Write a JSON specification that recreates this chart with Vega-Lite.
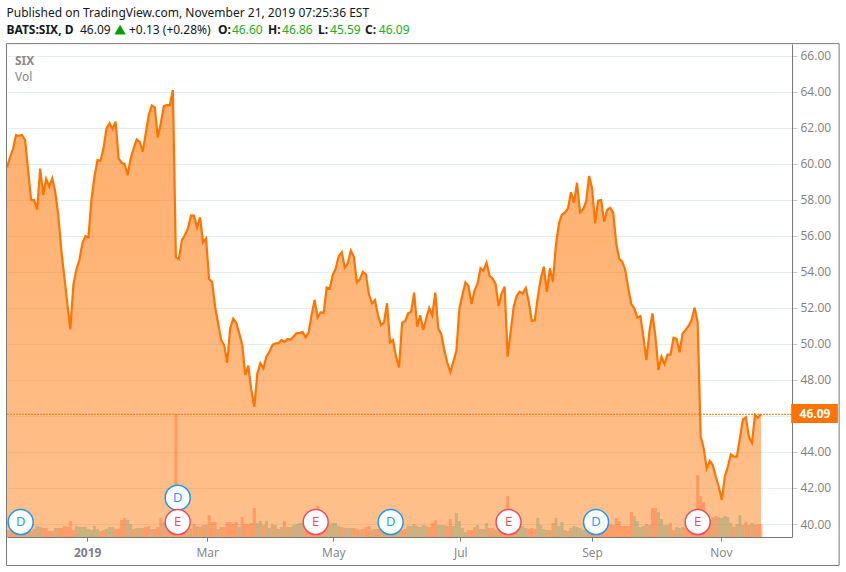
{"$schema":"https://vega.github.io/schema/vega-lite/v6.json","width":785,"height":493,"autosize":{"type":"none"},"padding":{"left":7,"top":44,"right":54,"bottom":35},"background":"white","view":{"stroke":null},
"datasets":{"prices":[
{"i":0,"close":59.79,"volume":700,"dir":"up"},{"i":1,"close":60.35,"volume":700,"dir":"down"},{"i":2,"close":60.81,"volume":800,"dir":"down"},{"i":3,"close":61.59,"volume":800,"dir":"up"},{"i":4,"close":61.55,"volume":700,"dir":"down"},{"i":5,"close":61.59,"volume":600,"dir":"down"},{"i":6,"close":61.31,"volume":800,"dir":"up"},{"i":7,"close":59.65,"volume":800,"dir":"down"},{"i":8,"close":57.98,"volume":600,"dir":"up"},{"i":9,"close":57.98,"volume":800,"dir":"down"},
{"i":10,"close":57.46,"volume":1100,"dir":"up"},{"i":11,"close":59.72,"volume":1000,"dir":"up"},{"i":12,"close":58.26,"volume":900,"dir":"down"},{"i":13,"close":59.15,"volume":900,"dir":"down"},{"i":14,"close":58.72,"volume":600,"dir":"down"},{"i":15,"close":59.18,"volume":600,"dir":"down"},{"i":16,"close":58.44,"volume":900,"dir":"up"},{"i":17,"close":57.15,"volume":900,"dir":"down"},{"i":18,"close":55.21,"volume":900,"dir":"down"},{"i":19,"close":53.73,"volume":1100,"dir":"down"},
{"i":20,"close":52.25,"volume":1000,"dir":"down"},{"i":21,"close":50.8,"volume":1600,"dir":"down"},{"i":22,"close":53.26,"volume":700,"dir":"down"},{"i":23,"close":54.13,"volume":1100,"dir":"up"},{"i":24,"close":54.65,"volume":1000,"dir":"up"},{"i":25,"close":55.58,"volume":1000,"dir":"up"},{"i":26,"close":55.98,"volume":1000,"dir":"up"},{"i":27,"close":55.91,"volume":800,"dir":"up"},{"i":28,"close":57.98,"volume":700,"dir":"up"},{"i":29,"close":59.28,"volume":1100,"dir":"up"},
{"i":30,"close":60.2,"volume":800,"dir":"up"},{"i":31,"close":60.16,"volume":600,"dir":"down"},{"i":32,"close":60.85,"volume":700,"dir":"down"},{"i":33,"close":61.96,"volume":800,"dir":"up"},{"i":34,"close":62.24,"volume":1000,"dir":"up"},{"i":35,"close":61.92,"volume":1000,"dir":"up"},{"i":36,"close":62.33,"volume":800,"dir":"down"},{"i":37,"close":60.29,"volume":800,"dir":"down"},{"i":38,"close":60.05,"volume":1700,"dir":"down"},{"i":39,"close":59.98,"volume":1900,"dir":"down"},
{"i":40,"close":59.37,"volume":1700,"dir":"up"},{"i":41,"close":60.29,"volume":1300,"dir":"up"},{"i":42,"close":60.85,"volume":800,"dir":"down"},{"i":43,"close":61.35,"volume":900,"dir":"up"},{"i":44,"close":61.2,"volume":900,"dir":"up"},{"i":45,"close":60.66,"volume":900,"dir":"down"},{"i":46,"close":61.68,"volume":1000,"dir":"down"},{"i":47,"close":62.7,"volume":1100,"dir":"down"},{"i":48,"close":63.23,"volume":800,"dir":"up"},{"i":49,"close":63.12,"volume":800,"dir":"down"},
{"i":50,"close":61.46,"volume":1000,"dir":"down"},{"i":51,"close":62.24,"volume":1900,"dir":"down"},{"i":52,"close":63.2,"volume":1500,"dir":"up"},{"i":53,"close":63.25,"volume":1000,"dir":"down"},{"i":54,"close":63.25,"volume":1100,"dir":"down"},{"i":55,"close":64.09,"volume":1200,"dir":"down"},{"i":56,"close":54.8,"volume":12300,"dir":"down"},{"i":57,"close":54.71,"volume":1000,"dir":"down"},{"i":58,"close":55.76,"volume":800,"dir":"down"},{"i":59,"close":56.04,"volume":1000,"dir":"down"},
{"i":60,"close":56.41,"volume":800,"dir":"up"},{"i":61,"close":57.11,"volume":800,"dir":"down"},{"i":62,"close":57.11,"volume":1300,"dir":"down"},{"i":63,"close":56.45,"volume":1100,"dir":"up"},{"i":64,"close":57.02,"volume":1000,"dir":"down"},{"i":65,"close":55.63,"volume":1200,"dir":"down"},{"i":66,"close":55.85,"volume":1200,"dir":"up"},{"i":67,"close":53.6,"volume":2200,"dir":"down"},{"i":68,"close":53.45,"volume":1500,"dir":"down"},{"i":69,"close":52.06,"volume":1500,"dir":"down"},
{"i":70,"close":51.14,"volume":800,"dir":"up"},{"i":71,"close":50.21,"volume":1000,"dir":"down"},{"i":72,"close":49.93,"volume":1000,"dir":"down"},{"i":73,"close":48.95,"volume":1500,"dir":"down"},{"i":74,"close":50.86,"volume":1500,"dir":"down"},{"i":75,"close":51.4,"volume":1300,"dir":"down"},{"i":76,"close":51.17,"volume":1500,"dir":"down"},{"i":77,"close":50.58,"volume":1000,"dir":"up"},{"i":78,"close":49.93,"volume":2000,"dir":"down"},{"i":79,"close":48.27,"volume":1300,"dir":"down"},
{"i":80,"close":48.79,"volume":1300,"dir":"down"},{"i":81,"close":47.44,"volume":1400,"dir":"down"},{"i":82,"close":46.51,"volume":2900,"dir":"down"},{"i":83,"close":48.36,"volume":1400,"dir":"up"},{"i":84,"close":48.92,"volume":1600,"dir":"up"},{"i":85,"close":48.64,"volume":1200,"dir":"down"},{"i":86,"close":49.29,"volume":1600,"dir":"up"},{"i":87,"close":49.56,"volume":900,"dir":"up"},{"i":88,"close":49.93,"volume":1300,"dir":"down"},{"i":89,"close":50.03,"volume":1200,"dir":"up"},
{"i":90,"close":50.03,"volume":800,"dir":"down"},{"i":91,"close":50.21,"volume":1000,"dir":"up"},{"i":92,"close":50.1,"volume":1600,"dir":"down"},{"i":93,"close":50.27,"volume":1000,"dir":"up"},{"i":94,"close":50.23,"volume":1000,"dir":"down"},{"i":95,"close":50.4,"volume":1200,"dir":"up"},{"i":96,"close":50.6,"volume":1300,"dir":"up"},{"i":97,"close":50.6,"volume":1400,"dir":"up"},{"i":98,"close":50.66,"volume":1400,"dir":"up"},{"i":99,"close":50.36,"volume":1100,"dir":"down"},
{"i":100,"close":50.62,"volume":1200,"dir":"down"},{"i":101,"close":51.6,"volume":1200,"dir":"down"},{"i":102,"close":52.43,"volume":1500,"dir":"down"},{"i":103,"close":51.47,"volume":3100,"dir":"down"},{"i":104,"close":51.75,"volume":1400,"dir":"down"},{"i":105,"close":51.73,"volume":1300,"dir":"up"},{"i":106,"close":53.12,"volume":1200,"dir":"down"},{"i":107,"close":53.06,"volume":1200,"dir":"up"},{"i":108,"close":53.82,"volume":1400,"dir":"up"},{"i":109,"close":54.19,"volume":1400,"dir":"up"},
{"i":110,"close":54.87,"volume":1100,"dir":"up"},{"i":111,"close":55.08,"volume":1000,"dir":"down"},{"i":112,"close":54.23,"volume":900,"dir":"up"},{"i":113,"close":54.47,"volume":900,"dir":"up"},{"i":114,"close":55.17,"volume":900,"dir":"up"},{"i":115,"close":54.84,"volume":900,"dir":"down"},{"i":116,"close":53.41,"volume":800,"dir":"down"},{"i":117,"close":53.58,"volume":700,"dir":"up"},{"i":118,"close":54.0,"volume":800,"dir":"down"},{"i":119,"close":53.86,"volume":1000,"dir":"down"},
{"i":120,"close":52.76,"volume":1100,"dir":"down"},{"i":121,"close":52.25,"volume":700,"dir":"up"},{"i":122,"close":52.43,"volume":800,"dir":"down"},{"i":123,"close":51.6,"volume":800,"dir":"down"},{"i":124,"close":51.04,"volume":900,"dir":"up"},{"i":125,"close":51.19,"volume":700,"dir":"down"},{"i":126,"close":52.25,"volume":800,"dir":"up"},{"i":127,"close":50.08,"volume":800,"dir":"down"},{"i":128,"close":50.21,"volume":600,"dir":"down"},{"i":129,"close":49.29,"volume":900,"dir":"up"},
{"i":130,"close":48.69,"volume":700,"dir":"up"},{"i":131,"close":51.17,"volume":700,"dir":"down"},{"i":132,"close":51.25,"volume":800,"dir":"down"},{"i":133,"close":51.69,"volume":1100,"dir":"up"},{"i":134,"close":51.78,"volume":1100,"dir":"up"},{"i":135,"close":52.84,"volume":1300,"dir":"up"},{"i":136,"close":50.95,"volume":1100,"dir":"up"},{"i":137,"close":51.58,"volume":1000,"dir":"up"},{"i":138,"close":50.77,"volume":1200,"dir":"up"},{"i":139,"close":51.41,"volume":1100,"dir":"up"},
{"i":140,"close":51.99,"volume":1000,"dir":"down"},{"i":141,"close":51.58,"volume":1400,"dir":"down"},{"i":142,"close":52.84,"volume":1700,"dir":"down"},{"i":143,"close":50.86,"volume":1200,"dir":"up"},{"i":144,"close":50.54,"volume":1200,"dir":"up"},{"i":145,"close":49.66,"volume":1200,"dir":"up"},{"i":146,"close":48.95,"volume":1100,"dir":"down"},{"i":147,"close":48.45,"volume":1800,"dir":"down"},{"i":148,"close":49.01,"volume":1100,"dir":"up"},{"i":149,"close":49.6,"volume":2400,"dir":"up"},
{"i":150,"close":51.97,"volume":1600,"dir":"up"},{"i":151,"close":52.71,"volume":900,"dir":"up"},{"i":152,"close":53.41,"volume":500,"dir":"up"},{"i":153,"close":53.21,"volume":700,"dir":"down"},{"i":154,"close":52.21,"volume":700,"dir":"down"},{"i":155,"close":52.95,"volume":1000,"dir":"down"},{"i":156,"close":53.32,"volume":1200,"dir":"up"},{"i":157,"close":54.19,"volume":800,"dir":"down"},{"i":158,"close":54.06,"volume":800,"dir":"up"},{"i":159,"close":54.5,"volume":1400,"dir":"up"},
{"i":160,"close":53.78,"volume":900,"dir":"down"},{"i":161,"close":53.63,"volume":900,"dir":"down"},{"i":162,"close":53.32,"volume":700,"dir":"up"},{"i":163,"close":52.1,"volume":800,"dir":"down"},{"i":164,"close":52.8,"volume":800,"dir":"down"},{"i":165,"close":53.17,"volume":800,"dir":"down"},{"i":166,"close":49.29,"volume":4100,"dir":"down"},{"i":167,"close":50.67,"volume":1000,"dir":"down"},{"i":168,"close":52.06,"volume":1000,"dir":"down"},{"i":169,"close":52.65,"volume":1000,"dir":"up"},
{"i":170,"close":52.89,"volume":1000,"dir":"up"},{"i":171,"close":52.8,"volume":1100,"dir":"up"},{"i":172,"close":53.1,"volume":900,"dir":"up"},{"i":173,"close":52.34,"volume":800,"dir":"down"},{"i":174,"close":51.27,"volume":900,"dir":"down"},{"i":175,"close":51.3,"volume":800,"dir":"down"},{"i":176,"close":52.62,"volume":1900,"dir":"up"},{"i":177,"close":53.63,"volume":1200,"dir":"up"},{"i":178,"close":54.28,"volume":800,"dir":"up"},{"i":179,"close":52.89,"volume":700,"dir":"down"},
{"i":180,"close":54.19,"volume":700,"dir":"up"},{"i":181,"close":53.45,"volume":1400,"dir":"down"},{"i":182,"close":55.48,"volume":1900,"dir":"up"},{"i":183,"close":56.69,"volume":1100,"dir":"up"},{"i":184,"close":57.18,"volume":1500,"dir":"up"},{"i":185,"close":57.28,"volume":700,"dir":"up"},{"i":186,"close":57.52,"volume":600,"dir":"down"},{"i":187,"close":58.41,"volume":900,"dir":"up"},{"i":188,"close":57.83,"volume":1100,"dir":"up"},{"i":189,"close":58.94,"volume":1000,"dir":"up"},
{"i":190,"close":57.3,"volume":900,"dir":"up"},{"i":191,"close":57.46,"volume":700,"dir":"up"},{"i":192,"close":57.89,"volume":800,"dir":"up"},{"i":193,"close":59.31,"volume":800,"dir":"down"},{"i":194,"close":58.63,"volume":800,"dir":"down"},{"i":195,"close":56.69,"volume":800,"dir":"up"},{"i":196,"close":57.94,"volume":800,"dir":"down"},{"i":197,"close":57.98,"volume":800,"dir":"down"},{"i":198,"close":56.78,"volume":800,"dir":"down"},{"i":199,"close":57.43,"volume":1000,"dir":"down"},
{"i":200,"close":57.55,"volume":1300,"dir":"down"},{"i":201,"close":57.28,"volume":1200,"dir":"down"},{"i":202,"close":55.58,"volume":1900,"dir":"down"},{"i":203,"close":54.71,"volume":1600,"dir":"down"},{"i":204,"close":54.56,"volume":1100,"dir":"down"},{"i":205,"close":54.1,"volume":1100,"dir":"down"},{"i":206,"close":53.08,"volume":1100,"dir":"down"},{"i":207,"close":52.21,"volume":2500,"dir":"down"},{"i":208,"close":51.97,"volume":2100,"dir":"up"},{"i":209,"close":51.45,"volume":1600,"dir":"up"},
{"i":210,"close":51.54,"volume":1000,"dir":"up"},{"i":211,"close":50.4,"volume":1100,"dir":"up"},{"i":212,"close":49.1,"volume":1300,"dir":"down"},{"i":213,"close":50.67,"volume":1200,"dir":"up"},{"i":214,"close":51.69,"volume":2900,"dir":"down"},{"i":215,"close":50.4,"volume":2900,"dir":"down"},{"i":216,"close":48.55,"volume":2500,"dir":"up"},{"i":217,"close":49.29,"volume":1800,"dir":"up"},{"i":218,"close":48.88,"volume":1200,"dir":"up"},{"i":219,"close":49.4,"volume":1200,"dir":"up"},
{"i":220,"close":49.4,"volume":1400,"dir":"down"},{"i":221,"close":50.34,"volume":700,"dir":"down"},{"i":222,"close":50.28,"volume":1000,"dir":"up"},{"i":223,"close":49.53,"volume":900,"dir":"up"},{"i":224,"close":50.58,"volume":1000,"dir":"down"},{"i":225,"close":50.77,"volume":900,"dir":"down"},{"i":226,"close":50.99,"volume":900,"dir":"down"},{"i":227,"close":51.32,"volume":900,"dir":"down"},{"i":228,"close":52.01,"volume":900,"dir":"down"},{"i":229,"close":51.19,"volume":6200,"dir":"down"},
{"i":230,"close":44.85,"volume":4100,"dir":"down"},{"i":231,"close":44.2,"volume":3500,"dir":"down"},{"i":232,"close":43.09,"volume":1000,"dir":"down"},{"i":233,"close":43.5,"volume":1800,"dir":"down"},{"i":234,"close":43.27,"volume":2000,"dir":"up"},{"i":235,"close":42.63,"volume":2100,"dir":"down"},{"i":236,"close":42.07,"volume":2000,"dir":"up"},{"i":237,"close":41.33,"volume":1900,"dir":"up"},{"i":238,"close":42.63,"volume":2100,"dir":"up"},{"i":239,"close":43.18,"volume":2000,"dir":"up"},
{"i":240,"close":43.87,"volume":1400,"dir":"up"},{"i":241,"close":43.74,"volume":1000,"dir":"down"},{"i":242,"close":43.74,"volume":1300,"dir":"up"},{"i":243,"close":44.75,"volume":2200,"dir":"up"},{"i":244,"close":45.81,"volume":1200,"dir":"up"},{"i":245,"close":45.92,"volume":1500,"dir":"down"},{"i":246,"close":44.81,"volume":1200,"dir":"down"},{"i":247,"close":44.51,"volume":1400,"dir":"up"},{"i":248,"close":46.05,"volume":1200,"dir":"down"},{"i":249,"close":45.9,"volume":1300,"dir":"down"},{"i":250,"close":46.09,"volume":1300,"dir":"down"}
],
"events":[{"i":4.54,"p":40.11,"kind":"D"},{"i":56.6,"p":41.46,"kind":"D"},{"i":56.6,"p":40.11,"kind":"E"},{"i":102.35,"p":40.11,"kind":"E"},{"i":127.2,"p":40.11,"kind":"D"},{"i":166.3,"p":40.11,"kind":"E"},{"i":195.3,"p":40.11,"kind":"D"},{"i":229,"p":40.11,"kind":"E"}],
"labels":[{"text":"Published on TradingView.com, November 21, 2019 07:25:36 EST","i":-0.17,"p":68.38,"tone":"ink","weight":"plain"},
{"text":"BATS:SIX, D","i":-0.17,"p":67.44,"tone":"ink","weight":"bold"},{"text":"46.09","i":24.2,"p":67.44,"tone":"ink","weight":"plain"},{"text":"+0.13 (+0.28%)","i":40.45,"p":67.44,"tone":"ink","weight":"plain"},
{"text":"O:","i":69.96,"p":67.44,"tone":"ink","weight":"bold"},{"text":"46.60","i":74.6,"p":67.44,"tone":"gain","weight":"plain"},{"text":"H:","i":86.54,"p":67.44,"tone":"ink","weight":"bold"},{"text":"46.86","i":91.2,"p":67.44,"tone":"gain","weight":"plain"},{"text":"L:","i":103.1,"p":67.44,"tone":"ink","weight":"bold"},{"text":"45.59","i":107.1,"p":67.44,"tone":"gain","weight":"plain"},{"text":"C:","i":118.7,"p":67.44,"tone":"ink","weight":"bold"},{"text":"46.09","i":123.3,"p":67.44,"tone":"gain","weight":"plain"},
{"text":"SIX","i":2.65,"p":65.71,"tone":"muted","weight":"bold"},{"text":"Vol","i":2.65,"p":64.81,"tone":"muted","weight":"plain"}]},
"layer":[
{"data":{"name":"prices"},"mark":{"type":"area","line":false,"color":{"x1":0,"y1":0,"x2":0,"y2":1,"gradient":"linear","stops":[{"offset":0,"color":"rgba(255,116,0,0.58)"},{"offset":1,"color":"rgba(255,116,0,0.45)"}]}},
"encoding":{"x":{"field":"i","type":"quantitative","scale":{"domain":[0,260.28],"nice":false,"zero":false,"padding":0},"title":null,"axis":{"values":[26.6,66.4,108.2,150.3,194,236.7],"labelExpr":"datum.value<30?'2019':datum.value<70?'Mar':datum.value<110?'May':datum.value<160?'Jul':datum.value<200?'Sep':'Nov'","grid":false,"domainColor":"#787878","tickColor":"#787878","tickSize":4,"labelColor":"#808080","labelFont":"Open Sans","labelFontSize":12,"labelPadding":6,"labelFontWeight":{"condition":{"test":"datum.value<30","value":"bold"},"value":"normal"}}},
"y":{"field":"close","type":"quantitative","scale":{"domain":[39.28,66.64],"nice":false,"zero":false},"title":null,"axis":{"orient":"right","values":[40,42,44,46,48,50,52,54,56,58,60,62,64,66],"format":".2f","labelExpr":"datum.value==46?'':datum.label","grid":true,"gridColor":"#E4EDF3","domainColor":"#787878","tickColor":"#C8CCD0","tickSize":5,"labelColor":"#808080","labelFont":"Open Sans","labelFontSize":12,"labelPadding":3}},"y2":{"datum":39.28}}},
{"data":{"name":"prices"},"mark":{"type":"line","color":"#FF7400","strokeWidth":2.2},"encoding":{"x":{"field":"i","type":"quantitative"},"y":{"field":"close","type":"quantitative","scale":{"domain":[39.28,66.64],"nice":false,"zero":false},"axis":null}}},
{"data":{"name":"prices"},"mark":{"type":"bar","size":3,"opacity":0.4,"clip":true},"encoding":{"x":{"field":"i","type":"quantitative"},"y":{"field":"volume","type":"quantitative","scale":{"domain":[0,49300],"nice":false},"axis":null},"color":{"field":"dir","type":"nominal","legend":null,"scale":{"domain":["up","down","ink","gain","muted","D","E"],"range":["#7D9B69","#FF6430","#131722","#22AB22","#8A8A8A","#2196F3","#EF4A5E"]}}}},
{"data":{"values":[{}]},"mark":{"type":"rule","color":"#FF7400","strokeWidth":1,"strokeDash":[2,1]},"encoding":{"y":{"datum":46.09,"type":"quantitative","scale":{"domain":[39.28,66.64],"nice":false,"zero":false},"axis":null}}},
{"data":{"name":"events"},"mark":{"type":"point","filled":false,"fill":"white","fillOpacity":1,"size":625,"strokeWidth":1.5,"opacity":1},"encoding":{"x":{"field":"i","type":"quantitative"},"y":{"field":"p","type":"quantitative","scale":{"domain":[39.28,66.64],"nice":false,"zero":false},"axis":null},"stroke":{"field":"kind","type":"nominal","legend":null,"scale":{"domain":["D","E"],"range":["#2196F3","#EF4A5E"]}}}},
{"data":{"name":"events"},"mark":{"type":"text","font":"Open Sans","fontSize":13,"align":"center","baseline":"middle"},"encoding":{"x":{"field":"i","type":"quantitative"},"y":{"field":"p","type":"quantitative","scale":{"domain":[39.28,66.64],"nice":false,"zero":false},"axis":null},"text":{"field":"kind"},"color":{"field":"kind","type":"nominal","legend":null}}},
{"data":{"name":"labels"},"transform":[{"filter":"datum.weight=='plain'"}],"mark":{"type":"text","font":"Noto Sans","fontSize":12,"align":"left","baseline":"middle"},"encoding":{"x":{"field":"i","type":"quantitative"},"y":{"field":"p","type":"quantitative","scale":{"domain":[39.28,66.64],"nice":false,"zero":false},"axis":null},"text":{"field":"text"},"color":{"field":"tone","type":"nominal","legend":null}}},
{"data":{"name":"labels"},"transform":[{"filter":"datum.weight=='bold'"}],"mark":{"type":"text","font":"Noto Sans","fontSize":12,"fontWeight":"bold","align":"left","baseline":"middle"},"encoding":{"x":{"field":"i","type":"quantitative"},"y":{"field":"p","type":"quantitative","scale":{"domain":[39.28,66.64],"nice":false,"zero":false},"axis":null},"text":{"field":"text"},"color":{"field":"tone","type":"nominal","legend":null}}},
{"data":{"values":[{}]},"mark":{"type":"point","shape":"triangle-up","filled":true,"color":"#00A000","size":130,"opacity":1},"encoding":{"x":{"datum":37.5},"y":{"datum":67.44,"type":"quantitative","scale":{"domain":[39.28,66.64],"nice":false,"zero":false},"axis":null}}},
{"data":{"values":[{}]},"mark":{"type":"rect","color":"#FF7400"},"encoding":{"x":{"datum":260},"x2":{"datum":275.5},"y":{"datum":46.66,"type":"quantitative","scale":{"domain":[39.28,66.64],"nice":false,"zero":false},"axis":null},"y2":{"datum":45.6}}},
{"data":{"values":[{}]},"mark":{"type":"text","font":"Open Sans","fontSize":12,"fontWeight":"bold","color":"white","align":"center","baseline":"middle"},"encoding":{"x":{"datum":267.9},"y":{"datum":46.13,"type":"quantitative","scale":{"domain":[39.28,66.64],"nice":false,"zero":false},"axis":null},"text":{"value":"46.09"}}},
{"data":{"values":[{}]},"mark":{"type":"rect","filled":false,"fillOpacity":0,"stroke":"#787878","strokeWidth":1,"opacity":1},"encoding":{"x":{"datum":-0.17},"x2":{"datum":275.9},"y":{"datum":66.66,"type":"quantitative","scale":{"domain":[39.28,66.64],"nice":false,"zero":false},"axis":null},"y2":{"datum":37.7}}}
],
"resolve":{"scale":{"y":"independent"}}}
